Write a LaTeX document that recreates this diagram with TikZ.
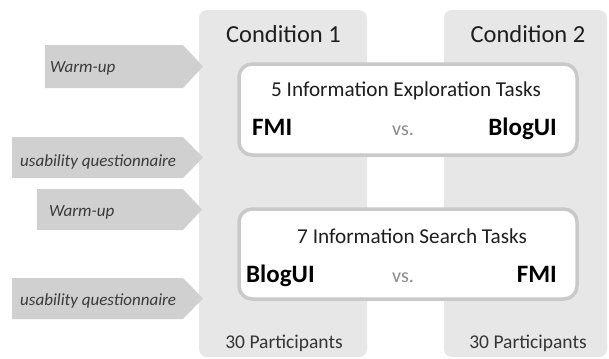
\documentclass[tikz,border=0pt]{standalone}
\usepackage{fontspec}
\setmainfont{Carlito}
\definecolor{colfill}{HTML}{E7E7E7}
\definecolor{arrfill}{HTML}{D0D0D0}
\definecolor{boxline}{HTML}{C9C9C9}
\definecolor{darktext}{HTML}{1E1E1E}
\definecolor{arrtext}{HTML}{3A3A3A}
\definecolor{vstext}{HTML}{8A8A8A}
\tikzset{
  column/.style={fill=colfill, draw=none, rounded corners=8bp},
  stagearrow/.style={fill=arrfill, draw=none},
  taskbox/.style={fill=white, draw=boxline, line width=3.5bp, rounded corners=13bp},
  condlabel/.style={anchor=base, inner sep=0pt, text=darktext, font=\fontsize{24.5bp}{28bp}\selectfont},
  arrlabel/.style={anchor=base west, inner sep=0pt, text=arrtext, font=\fontsize{17bp}{20bp}\selectfont\itshape},
  tasktitle/.style={anchor=base, inner sep=0pt, text=darktext, font=\fontsize{21.2bp}{24bp}\selectfont},
  uiname/.style={inner sep=0pt, text=black, font=\fontsize{25bp}{28bp}\selectfont\bfseries},
  vslabel/.style={anchor=base, inner sep=0pt, text=vstext, font=\fontsize{20bp}{24bp}\selectfont},
  partlabel/.style={anchor=base, inner sep=0pt, text=darktext!90, font=\fontsize{19.5bp}{22bp}\selectfont},
}
\begin{document}
\begin{tikzpicture}[x=1bp,y=-1bp]
\useasboundingbox (0,0) rectangle (609,358);
% columns
\draw[column] (199,10) rectangle (367,357);
\draw[column] (444,10) rectangle (607,357);
% stage arrows
\fill[stagearrow] (45,45) -- (183,45) -- (203,66.5) -- (183,88) -- (45,88) -- cycle;
\fill[stagearrow] (12,137) -- (183,137) -- (203,157.5) -- (183,178) -- (12,178) -- cycle;
\fill[stagearrow] (37,189) -- (183,189) -- (202,209.5) -- (183,230) -- (37,230) -- cycle;
\fill[stagearrow] (12,278) -- (183,278) -- (203,298.5) -- (183,319) -- (12,319) -- cycle;
\node[arrlabel] (w1) at (50,72) {Warm-up};
\node[arrlabel] (u1) at (20,166) {usability questionnaire};
\node[arrlabel] (w2) at (49,216) {Warm-up};
\node[arrlabel] (u2) at (20,305) {usability questionnaire};
% condition labels
\node[condlabel] (c1) at (283.5,42) {Condition 1};
\node[condlabel] (c2) at (528,42) {Condition 2};
% task boxes
\draw[taskbox] (239,64) rectangle (577,155);
\draw[taskbox] (239,209) rectangle (577,299);
\node[tasktitle] (t1) at (406,96) {5 Information Exploration Tasks};
\node[uiname, anchor=base west] (f1) at (252,135) {FMI};
\node[vslabel] (v1) at (403,135) {vs.};
\node[uiname, anchor=base east] (b1) at (557,135) {BlogUI};
\node[tasktitle] (t2) at (412,243) {7 Information Search Tasks};
\node[uiname, anchor=base west] (b2) at (246,282) {BlogUI};
\node[vslabel] (v2) at (403,282) {vs.};
\node[uiname, anchor=base east] (f2) at (557,282) {FMI};
% participants
\node[partlabel] (p1) at (284,348) {30 Participants};
\node[partlabel] (p2) at (528,348) {30 Participants};
\end{tikzpicture}
\end{document}
